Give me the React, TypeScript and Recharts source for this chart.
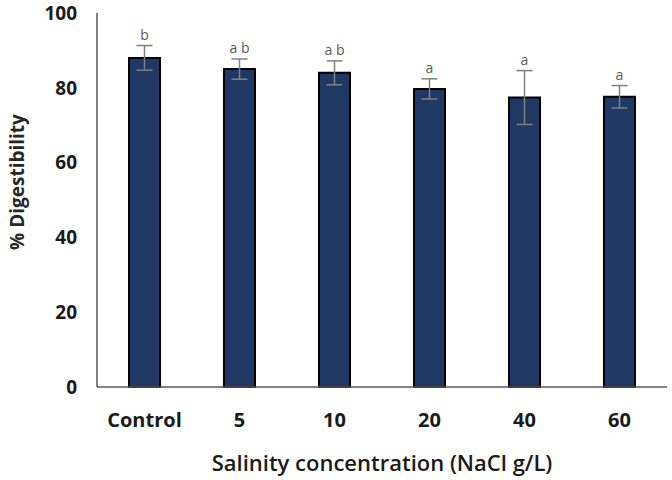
import { Bar, BarChart, ErrorBar, LabelList, XAxis, YAxis } from "recharts";

const categories = ["Control", "5", "10", "20", "40", "60"];
const digestibility = [88.0, 85.0, 84.0, 79.7, 77.4, 77.6];
const errors = [3.3, 2.7, 3.2, 2.7, 7.2, 3.0];
const letters = ["b", "a b", "a b", "a", "a", "a"];
const yTicks = [0, 20, 40, 60, 80, 100];

const data = categories.map((name, i) => ({
  name,
  value: digestibility[i],
  err: errors[i],
  letter: letters[i],
}));

const FONT = "'Open Sans', sans-serif";

// letters sit just above the top of each error bar
function renderLetter(props: any) {
  const x = Number(props.x);
  const y = Number(props.y);
  const width = Number(props.width);
  const height = Number(props.height);
  const i = props.index;
  const pxPerUnit = height / digestibility[i];
  const top = y - errors[i] * pxPerUnit;
  return (
    <text
      x={x + width / 2}
      y={top - 6}
      textAnchor="middle"
      fill="#595959"
      fontSize={14}
      fontFamily={FONT}
    >
      {props.value}
    </text>
  );
}

function YTitle(props: any) {
  const vb = props.viewBox;
  const cx = 17;
  const cy = vb.y + vb.height / 2 - 18;
  return (
    <text
      x={cx}
      y={cy}
      transform={`rotate(-90, ${cx}, ${cy})`}
      textAnchor="middle"
      dominantBaseline="central"
      fill="#262626"
      fontSize={19}
      fontWeight="bold"
      fontFamily={FONT}
    >
      % Digestibility
    </text>
  );
}

export default function App() {
  return (
    <div style={{ position: "absolute", left: 0, top: 0, background: "#fff" }}>
      <BarChart
        width={672}
        height={480}
        data={data}
        margin={{ top: 13, right: 5, bottom: 0, left: 0 }}
      >
        <XAxis
          dataKey="name"
          height={93}
          tickLine={false}
          tickSize={0}
          tickMargin={26}
          axisLine={{ stroke: "#595959", strokeWidth: 1.5 }}
          tick={{ fill: "#1a1a1a", fontSize: 20, fontWeight: "bold", fontFamily: FONT }}
          label={{
            value: "Salinity concentration (NaCl g/L)",
            position: "insideBottom",
            offset: 9,
            fill: "#1a1a1a",
            fontSize: 22,
            fontWeight: 600,
            fontFamily: FONT,
          }}
        />
        <YAxis
          width={97}
          domain={[0, 100]}
          ticks={yTicks}
          interval={0}
          tickLine={false}
          tickSize={0}
          tickMargin={20}
          axisLine={{ stroke: "#595959", strokeWidth: 1.5 }}
          tick={{ fill: "#1a1a1a", fontSize: 19, fontWeight: "bold", fontFamily: FONT }}
          label={<YTitle />}
        />
        <Bar
          dataKey="value"
          fill="#1f3864"
          stroke="#000"
          strokeWidth={2}
          barSize={31}
          isAnimationActive={false}
        >
          <ErrorBar dataKey="err" width={8} stroke="#808080" strokeWidth={1.5} />
          <LabelList dataKey="letter" content={renderLetter} />
        </Bar>
      </BarChart>
    </div>
  );
}
